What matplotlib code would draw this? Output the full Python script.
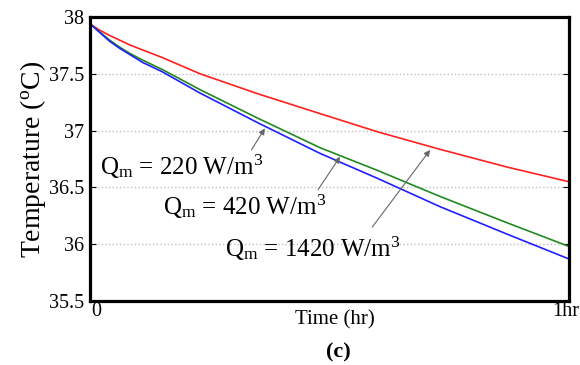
import numpy as np
import matplotlib
matplotlib.use('Agg')
import matplotlib.pyplot as plt
from matplotlib.transforms import ScaledTranslation

## Data ##
time = [0, 0.02, 0.04, 0.06, 0.083, 0.11, 0.15, 0.23, 0.35, 0.48, 0.6, 0.731, 0.87, 1.0]
temp_220 = [37.94, 37.885, 37.84, 37.80, 37.755, 37.71, 37.645, 37.50, 37.325, 37.15, 36.99, 36.835, 36.68, 36.55]
temp_420 = [37.94, 37.87, 37.80, 37.74, 37.68, 37.62, 37.54, 37.36, 37.11, 36.85, 36.65, 36.42, 36.19, 35.98]
temp_1420 = [37.94, 37.865, 37.79, 37.73, 37.67, 37.60, 37.52, 37.33, 37.07, 36.80, 36.58, 36.33, 36.09, 35.87]

y_ticks = [35.5, 36, 36.5, 37, 37.5, 38]
y_tick_labels = ['35.5', '36', '36.5', '37', '37.5', '38']
x_tick_labels = ['0', '1hr']

labels = [r'Q$_{\rm m}$ = 220 W/m$^3$', r'Q$_{\rm m}$ = 420 W/m$^3$', r'Q$_{\rm m}$ = 1420 W/m$^3$']

plt.rcParams['font.family'] = 'Liberation Serif'
plt.rcParams['mathtext.fontset'] = 'custom'
plt.rcParams['mathtext.rm'] = 'Liberation Serif'
plt.rcParams['mathtext.it'] = 'Liberation Serif:italic'

fig = plt.figure(figsize=(5.8, 3.65), dpi=100)
ax = fig.add_axes([0.1552, 0.1753, 0.8259, 0.778])

ax.plot(time, temp_220, color='#ff2020', lw=1.2)
ax.plot(time, temp_420, color='#208a20', lw=1.2)
ax.plot(time, temp_1420, color='#2020ff', lw=1.2)

ax.set_xlim(0, 1)
ax.set_ylim(35.5, 38)
ax.set_yticks(y_ticks)
ax.set_yticklabels(y_tick_labels, fontsize=14.5)
ax.set_xticks([0, 1])
ax.set_xticklabels(x_tick_labels, fontsize=14.5)
ax.tick_params(direction='in', right=True, length=4, pad=4)
ax.tick_params(axis='x', length=0, pad=1)
ax.grid(axis='y', linestyle=':', color='#c0c0c0', lw=1)
for s in ax.spines.values():
    s.set_linewidth(2.3)

# nudge the x tick labels like the original
xl = ax.get_xticklabels()
xl[0].set_transform(xl[0].get_transform() + ScaledTranslation(0.06, 0, fig.dpi_scale_trans))
xl[1].set_transform(xl[1].get_transform() + ScaledTranslation(-0.03, 0, fig.dpi_scale_trans))

ax.set_ylabel(r'Temperature ($^{\rm o}$C)', fontsize=20, labelpad=1)
fig.text(0.578, 0.123, 'Time (hr)', fontsize=15, ha='center', va='center')
fig.text(0.584, 0.035, '(c)', fontsize=16, fontweight='bold', ha='center', va='center')

# annotations
arrow = dict(arrowstyle='-|>', color='#666666', lw=0.8, mutation_scale=9,
             shrinkA=0, shrinkB=0)
ax.text(0.021, 36.61, labels[0], fontsize=18, va='baseline')
ax.text(0.152, 36.257, labels[1], fontsize=18, va='baseline')
ax.text(0.282, 35.887, labels[2], fontsize=18, va='baseline')
ax.annotate('', xy=(0.365, 37.02), xytext=(0.337, 36.83), arrowprops=arrow)
ax.annotate('', xy=(0.522, 36.77), xytext=(0.476, 36.48), arrowprops=arrow)
ax.annotate('', xy=(0.71, 36.83), xytext=(0.589, 36.15), arrowprops=arrow)

fig.savefig('out.png', dpi=100)
